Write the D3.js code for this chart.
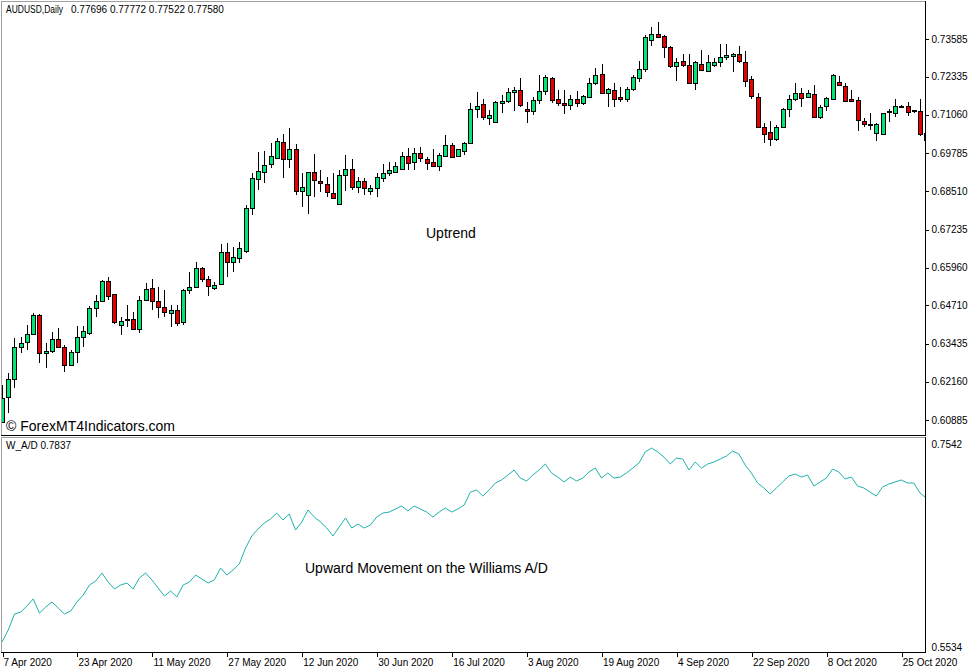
<!DOCTYPE html>
<html>
<head>
<meta charset="utf-8">
<script src="https://cdn.jsdelivr.net/npm/d3@7"></script>
<style>
  body { margin: 0; background: #fff; }
  text { font-family: "Liberation Sans", Arial, sans-serif; }
</style>
</head>
<body>
<div id="chart"></div>
<script>
var svgWidth = 977;
var svgHeight = 672;

// price axis labels (right side of the main window)
var priceTicks = [0.73585, 0.72335, 0.71060, 0.69785, 0.68510, 0.67235,
  0.65960, 0.64710, 0.63435, 0.62160, 0.60885];

// date labels and the bar they sit on
var dateLabels = ["7 Apr 2020", "23 Apr 2020", "11 May 2020", "27 May 2020",
  "12 Jun 2020", "30 Jun 2020", "16 Jul 2020", "3 Aug 2020", "19 Aug 2020",
  "4 Sep 2020", "22 Sep 2020", "8 Oct 2020", "25 Oct 2020"];
var dateBars = [0, 12, 24, 36, 48, 60, 72, 84, 96, 108, 120, 132, 144];

// daily bars: [open, high, low, close]
var candles = [
  [0.60818, 0.62052, 0.60785, 0.61618], [0.61652, 0.62452, 0.61118, 0.62252],
  [0.62252, 0.63618, 0.61952, 0.63318], [0.63318, 0.63652, 0.63118, 0.63452],
  [0.63485, 0.64052, 0.63218, 0.63752], [0.63752, 0.64452, 0.63718, 0.64385],
  [0.64385, 0.64418, 0.62785, 0.63118], [0.63118, 0.63452, 0.62618, 0.63185],
  [0.63185, 0.63818, 0.63118, 0.63585], [0.63585, 0.63952, 0.63285, 0.63318],
  [0.63318, 0.63385, 0.62485, 0.62718], [0.62718, 0.63218, 0.62718, 0.63152],
  [0.63152, 0.64018, 0.62785, 0.63652], [0.63652, 0.64018, 0.63318, 0.63852],
  [0.63785, 0.64685, 0.63718, 0.64618], [0.64618, 0.65052, 0.64318, 0.64852],
  [0.64852, 0.65552, 0.64818, 0.65518], [0.65518, 0.65652, 0.64885, 0.65018],
  [0.65085, 0.65085, 0.64085, 0.64152], [0.64052, 0.64318, 0.63718, 0.64185],
  [0.64252, 0.64718, 0.63985, 0.64252], [0.64252, 0.64485, 0.63885, 0.63918],
  [0.63918, 0.65018, 0.63785, 0.64885], [0.64885, 0.65452, 0.64852, 0.65252],
  [0.65285, 0.65585, 0.64552, 0.64852], [0.64852, 0.65318, 0.64285, 0.64652],
  [0.64652, 0.65218, 0.64318, 0.64485], [0.64452, 0.64718, 0.63985, 0.64552],
  [0.64552, 0.64718, 0.64018, 0.64118], [0.64152, 0.65252, 0.64052, 0.65218],
  [0.65218, 0.65818, 0.65085, 0.65318], [0.65318, 0.66152, 0.65285, 0.65952],
  [0.65952, 0.65985, 0.65485, 0.65585], [0.65585, 0.65685, 0.65018, 0.65352],
  [0.65285, 0.65485, 0.65218, 0.65385], [0.65418, 0.66752, 0.65385, 0.66485],
  [0.66485, 0.66785, 0.65652, 0.66152], [0.66152, 0.66652, 0.65818, 0.66318],
  [0.66285, 0.66818, 0.66118, 0.66618], [0.66518, 0.68052, 0.66452, 0.67952],
  [0.67952, 0.69118, 0.67718, 0.68952], [0.68918, 0.69818, 0.68552, 0.69185],
  [0.69152, 0.69852, 0.68785, 0.69385], [0.69418, 0.70118, 0.69285, 0.69685],
  [0.69618, 0.70285, 0.69585, 0.70185], [0.70152, 0.70418, 0.68952, 0.69585],
  [0.69585, 0.70618, 0.69285, 0.69918], [0.69918, 0.70085, 0.68385, 0.68518],
  [0.68518, 0.69118, 0.67985, 0.68652], [0.68385, 0.69152, 0.67752, 0.69152],
  [0.69152, 0.69752, 0.68318, 0.68885], [0.68852, 0.69218, 0.68485, 0.68785],
  [0.68752, 0.68985, 0.68318, 0.68485], [0.68452, 0.69118, 0.68252, 0.68285],
  [0.68085, 0.69218, 0.68052, 0.69052], [0.69052, 0.69718, 0.68518, 0.69252],
  [0.69252, 0.69585, 0.68552, 0.68652], [0.68652, 0.68985, 0.68452, 0.68852],
  [0.68852, 0.68952, 0.68385, 0.68618], [0.68518, 0.68718, 0.68385, 0.68618],
  [0.68618, 0.69118, 0.68318, 0.68985], [0.68952, 0.69418, 0.68818, 0.69118],
  [0.69118, 0.69485, 0.69018, 0.69218], [0.69152, 0.69485, 0.69118, 0.69352],
  [0.69252, 0.69818, 0.69218, 0.69685], [0.69685, 0.69952, 0.69218, 0.69452],
  [0.69485, 0.69952, 0.69218, 0.69785], [0.69785, 0.69985, 0.69485, 0.69618],
  [0.69585, 0.69652, 0.69218, 0.69452], [0.69485, 0.69918, 0.69352, 0.69352],
  [0.69352, 0.69785, 0.69185, 0.69718], [0.69685, 0.70385, 0.69652, 0.70052],
  [0.70052, 0.70118, 0.69618, 0.69652], [0.69685, 0.69918, 0.69652, 0.69918],
  [0.69852, 0.70152, 0.69718, 0.70118], [0.70118, 0.71452, 0.70085, 0.71252],
  [0.71252, 0.71818, 0.70952, 0.71352], [0.71418, 0.71585, 0.70885, 0.70985],
  [0.70952, 0.71218, 0.70718, 0.71052], [0.70818, 0.71518, 0.70818, 0.71485],
  [0.71452, 0.71718, 0.71118, 0.71518], [0.71518, 0.71952, 0.71452, 0.71818],
  [0.71818, 0.71985, 0.71185, 0.71885], [0.71885, 0.72285, 0.71318, 0.71385],
  [0.71252, 0.71485, 0.70785, 0.71185], [0.71185, 0.71652, 0.71052, 0.71552],
  [0.71552, 0.72385, 0.71418, 0.71852], [0.71852, 0.72385, 0.71718, 0.72318],
  [0.72285, 0.72318, 0.71452, 0.71552], [0.71585, 0.71885, 0.71352, 0.71452],
  [0.71452, 0.71885, 0.71085, 0.71385], [0.71385, 0.71718, 0.71218, 0.71585],
  [0.71585, 0.71852, 0.71318, 0.71452], [0.71452, 0.71718, 0.71385, 0.71685],
  [0.71652, 0.72285, 0.71618, 0.72118], [0.72118, 0.72618, 0.72052, 0.72385],
  [0.72418, 0.72752, 0.71785, 0.71785], [0.71785, 0.71952, 0.71318, 0.71918],
  [0.71885, 0.72118, 0.71318, 0.71585], [0.71652, 0.71985, 0.71485, 0.71585],
  [0.71585, 0.71985, 0.71485, 0.71918], [0.71918, 0.72385, 0.71852, 0.72318],
  [0.72285, 0.72852, 0.72152, 0.72585], [0.72585, 0.73718, 0.72485, 0.73652],
  [0.73552, 0.73985, 0.73352, 0.73752], [0.73752, 0.74152, 0.73652, 0.73652],
  [0.73685, 0.73718, 0.72952, 0.73318], [0.73318, 0.73352, 0.72618, 0.72685],
  [0.72685, 0.72952, 0.72185, 0.72818], [0.72852, 0.73085, 0.72652, 0.72718],
  [0.72718, 0.73085, 0.72118, 0.72118], [0.72118, 0.72852, 0.71885, 0.72818],
  [0.72752, 0.73218, 0.72518, 0.72552], [0.72518, 0.73052, 0.72485, 0.72818],
  [0.72718, 0.72952, 0.72652, 0.72818], [0.72818, 0.73418, 0.72652, 0.72985],
  [0.72985, 0.73418, 0.72885, 0.73052], [0.73018, 0.73118, 0.72485, 0.73085],
  [0.73085, 0.73352, 0.72785, 0.72852], [0.72818, 0.73185, 0.71985, 0.72185],
  [0.72252, 0.72352, 0.71585, 0.71685], [0.71652, 0.71785, 0.70618, 0.70652],
  [0.70652, 0.70785, 0.70118, 0.70418], [0.70485, 0.70852, 0.70018, 0.70252],
  [0.70252, 0.70718, 0.70185, 0.70652], [0.70652, 0.71285, 0.70618, 0.71252],
  [0.71252, 0.71718, 0.70985, 0.71585], [0.71585, 0.72118, 0.71518, 0.71785],
  [0.71785, 0.71952, 0.71318, 0.71618], [0.71652, 0.71885, 0.71618, 0.71785],
  [0.71752, 0.72052, 0.70985, 0.70985], [0.70985, 0.71385, 0.70918, 0.71318],
  [0.71352, 0.71652, 0.71185, 0.71618], [0.71585, 0.72418, 0.71552, 0.72385],
  [0.72152, 0.72352, 0.72018, 0.72052], [0.72018, 0.72118, 0.71485, 0.71518],
  [0.71585, 0.71885, 0.71485, 0.71518], [0.71552, 0.71652, 0.70518, 0.70885],
  [0.70852, 0.70952, 0.70652, 0.70752], [0.70752, 0.71118, 0.70552, 0.70718],
  [0.70452, 0.70785, 0.70185, 0.70752], [0.70418, 0.71118, 0.70418, 0.71118],
  [0.71152, 0.71252, 0.70818, 0.71185], [0.71118, 0.71585, 0.70985, 0.71352],
  [0.71352, 0.71385, 0.71285, 0.71318], [0.71352, 0.71485, 0.71018, 0.71152],
  [0.71185, 0.71218, 0.71118, 0.71218], [0.71185, 0.71585, 0.70352, 0.70418],
  [0.70452, 0.70752, 0.69885, 0.70218]
];

// Williams A/D values, one per bar
var wad = [
  0.5583, 0.5702, 0.5860, 0.5880, 0.5940, 0.6009, 0.5870, 0.5930, 0.5979, 0.5920,
  0.5860, 0.5890, 0.5979, 0.6048, 0.6147, 0.6187, 0.6266, 0.6177, 0.6108, 0.6147,
  0.6167, 0.6108, 0.6216, 0.6266, 0.6197, 0.6118, 0.6038, 0.6088, 0.6029, 0.6147,
  0.6177, 0.6246, 0.6207, 0.6167, 0.6197, 0.6315, 0.6246, 0.6296, 0.6355, 0.6513,
  0.6632, 0.6701, 0.6760, 0.6800, 0.6859, 0.6790, 0.6849, 0.6691, 0.6770, 0.6889,
  0.6820, 0.6770, 0.6711, 0.6632, 0.6721, 0.6810, 0.6711, 0.6750, 0.6711, 0.6741,
  0.6820, 0.6859, 0.6869, 0.6899, 0.6929, 0.6879, 0.6929, 0.6899, 0.6869, 0.6820,
  0.6869, 0.6909, 0.6869, 0.6899, 0.6938, 0.7067, 0.7087, 0.7027, 0.7087, 0.7156,
  0.7186, 0.7235, 0.7285, 0.7205, 0.7176, 0.7235, 0.7285, 0.7344, 0.7255, 0.7215,
  0.7166, 0.7215, 0.7176, 0.7205, 0.7265, 0.7304, 0.7205, 0.7255, 0.7205, 0.7215,
  0.7255, 0.7304, 0.7354, 0.7463, 0.7502, 0.7463, 0.7413, 0.7344, 0.7403, 0.7393,
  0.7285, 0.7364, 0.7304, 0.7344, 0.7364, 0.7393, 0.7423, 0.7472, 0.7443, 0.7334,
  0.7255, 0.7156, 0.7107, 0.7047, 0.7107, 0.7166, 0.7225, 0.7245, 0.7215, 0.7235,
  0.7126, 0.7166, 0.7205, 0.7294, 0.7265, 0.7196, 0.7215, 0.7126, 0.7107, 0.7067,
  0.7027, 0.7116, 0.7146, 0.7166, 0.7186, 0.7156, 0.7156, 0.7057, 0.7008
];
var wadRange = [0.5534, 0.7542];

// window geometry
var plotLeft = 1, plotRight = 925;
var mainTop = 1, mainBottom = 435;
var subTop = 437, subBottom = 652;

var svg = d3.select("#chart")
  .append("svg")
  .attr("width", svgWidth)
  .attr("height", svgHeight)
  .style("display", "block");

svg.append("rect").attr("width", svgWidth).attr("height", svgHeight).attr("fill", "#fff");

var x = d3.scaleLinear().domain([0, candles.length - 1]).range([2, 2 + (candles.length - 1) * 6.245]);
var y = d3.scaleLinear().domain([0.60885, 0.73585]).range([420, 39]);
var yW = d3.scaleLinear().domain(wadRange).range([647, 444]);

var defs = svg.append("defs");
defs.append("clipPath").attr("id", "clipMain")
  .append("rect").attr("x", plotLeft + 1).attr("y", mainTop + 1)
  .attr("width", plotRight - plotLeft - 1).attr("height", mainBottom - mainTop - 1);
defs.append("clipPath").attr("id", "clipSub")
  .append("rect").attr("x", plotLeft + 1).attr("y", subTop + 1)
  .attr("width", plotRight - plotLeft - 1).attr("height", subBottom - subTop - 1);

// candles
var candleGroup = svg.append("g").attr("clip-path", "url(#clipMain)");

candleGroup.selectAll("line.wick")
  .data(candles)
  .enter()
  .append("line")
  .attr("class", "wick")
  .attr("x1", (d, i) => Math.round(x(i)) + 0.5)
  .attr("x2", (d, i) => Math.round(x(i)) + 0.5)
  .attr("y1", d => y(d[1]))
  .attr("y2", d => y(d[2]))
  .attr("stroke", "#000")
  .attr("stroke-width", 1);

candleGroup.selectAll("rect.body")
  .data(candles)
  .enter()
  .append("rect")
  .attr("class", "body")
  .attr("x", (d, i) => Math.round(x(i)) - 1.5)
  .attr("y", d => Math.round(Math.min(y(d[0]), y(d[3]))) + 0.5)
  .attr("width", 4)
  .attr("height", d => Math.max(1, Math.round(Math.abs(y(d[0]) - y(d[3])))))
  .attr("fill", d => d[3] > d[0] ? "#00e676" : (d[3] < d[0] ? "#e60000" : "#000"))
  .attr("stroke", "#000")
  .attr("stroke-width", 1);

// Williams A/D line
var line = d3.line()
  .x((d, i) => x(i))
  .y(d => yW(d));

svg.append("g").attr("clip-path", "url(#clipSub)")
  .append("path")
  .datum(wad)
  .attr("d", line)
  .attr("fill", "none")
  .attr("stroke", "#20b2aa")
  .attr("stroke-width", 1);

// window borders: light top/left, dark bottom/right
function frame(top, bottom) {
  var g = svg.append("g").attr("shape-rendering", "crispEdges");
  g.append("line").attr("x1", plotLeft + 0.5).attr("x2", plotRight).attr("y1", top + 0.5).attr("y2", top + 0.5)
    .attr("stroke", "#a0a0a0");
  g.append("line").attr("x1", plotLeft + 0.5).attr("x2", plotLeft + 0.5).attr("y1", top).attr("y2", bottom)
    .attr("stroke", "#a0a0a0");
  g.append("line").attr("x1", plotLeft).attr("x2", plotRight + 1).attr("y1", bottom + 0.5).attr("y2", bottom + 0.5)
    .attr("stroke", "#000");
  g.append("line").attr("x1", plotRight + 0.5).attr("x2", plotRight + 0.5).attr("y1", top).attr("y2", bottom + 1)
    .attr("stroke", "#000");
}
frame(mainTop, mainBottom);
frame(subTop, subBottom);

// price axis
var priceAxis = svg.append("g")
  .attr("transform", `translate(${plotRight + 0.5}, 0)`)
  .call(d3.axisRight(y).tickValues(priceTicks).tickSize(3).tickPadding(3).tickFormat(d3.format(".5f")));
priceAxis.select(".domain").remove();

// W_A/D axis labels
var wadAxis = svg.append("g")
  .attr("transform", `translate(${plotRight + 0.5}, 0)`)
  .call(d3.axisRight(yW).tickValues(wadRange).tickSize(0).tickPadding(6).tickFormat(d3.format(".4f")));
wadAxis.select(".domain").remove();

// date axis
var dateAxis = svg.append("g")
  .attr("transform", `translate(0, ${subBottom + 0.5})`)
  .call(d3.axisBottom(x).tickValues(dateBars).tickSize(4).tickPadding(2)
    .tickFormat((d, i) => dateLabels[i]));
dateAxis.select(".domain").remove();
dateAxis.selectAll(".tick line").attr("transform", "translate(0.5,0)");
dateAxis.selectAll(".tick text").attr("text-anchor", "start").attr("dx", 1);

svg.selectAll(".tick text")
  .attr("font-family", '"Liberation Sans", Arial, sans-serif')
  .attr("font-size", 10)
  .attr("fill", "#000");
svg.selectAll(".tick line").attr("stroke", "#000").attr("shape-rendering", "crispEdges");

// window captions
svg.append("text").attr("x", 6).attr("y", 13).attr("font-size", 10)
  .attr("textLength", 57).attr("lengthAdjust", "spacingAndGlyphs").text("AUDUSD,Daily");
svg.append("text").attr("x", 71).attr("y", 13).attr("font-size", 10)
  .text("0.77696 0.77772 0.77522 0.77580");
svg.append("text").attr("x", 6).attr("y", 449).attr("font-size", 10).text("W_A/D 0.7837");

// annotations
svg.append("text").attr("x", 6).attr("y", 431).attr("font-size", 14).text("\u00A9 ForexMT4Indicators.com");
svg.append("text").attr("x", 426).attr("y", 238).attr("font-size", 14).text("Uptrend");
svg.append("text").attr("x", 305).attr("y", 573).attr("font-size", 14).text("Upward Movement on the Williams A/D");
</script>
</body>
</html>
